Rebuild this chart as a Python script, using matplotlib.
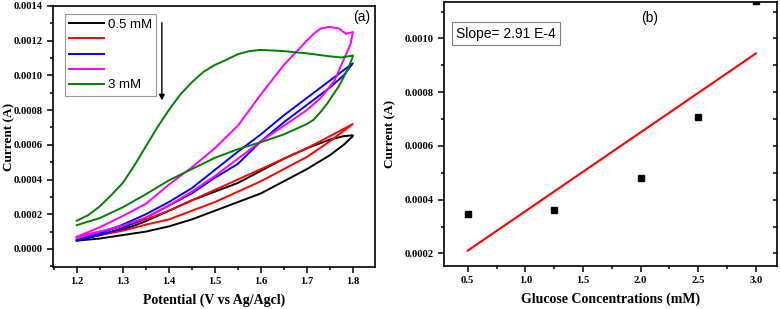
import numpy as np
import matplotlib
matplotlib.use("Agg")
import matplotlib.pyplot as plt
from matplotlib.ticker import MultipleLocator

# ---------------- data: panel (a) cyclic voltammograms ----------------
# forward (upper) branch and return (lower) branch
green_up_x = [1.2, 1.225, 1.25, 1.275, 1.3, 1.325, 1.35, 1.375, 1.4, 1.425, 1.45, 1.475, 1.5, 1.525, 1.55, 1.575, 1.6, 1.65, 1.7, 1.75, 1.775, 1.8]
green_up_y = [0.000163, 0.000195, 0.000245, 0.00031, 0.00038, 0.00048, 0.00059, 0.0007, 0.0008, 0.00089, 0.00096, 0.00102, 0.00106, 0.00109, 0.001122, 0.00114, 0.001147, 0.00114, 0.001127, 0.00111, 0.001103, 0.001115]
green_dn_x = [1.8, 1.79, 1.78, 1.77, 1.76, 1.745, 1.73, 1.715, 1.7, 1.65, 1.6, 1.55, 1.5, 1.45, 1.4, 1.35, 1.3, 1.25, 1.2]
green_dn_y = [0.00111, 0.00104, 0.00099, 0.00094, 0.0009, 0.00084, 0.00079, 0.000745, 0.00072, 0.00066, 0.000615, 0.000575, 0.000525, 0.00046, 0.000395, 0.000315, 0.00024, 0.000178, 0.000137]

mag_up_x = [1.2, 1.25, 1.3, 1.35, 1.4, 1.45, 1.5, 1.55, 1.6, 1.65, 1.7, 1.715, 1.73, 1.75, 1.77, 1.785, 1.8]
mag_up_y = [0.00007, 0.000125, 0.00019, 0.00026, 0.00037, 0.00047, 0.00058, 0.00071, 0.00089, 0.00106, 0.0012, 0.00124, 0.00127, 0.00128, 0.00127, 0.00124, 0.00125]
mag_dn_x = [1.8, 1.795, 1.785, 1.775, 1.76, 1.73, 1.7, 1.65, 1.6, 1.55, 1.5, 1.45, 1.4, 1.35, 1.3, 1.25, 1.2]
mag_dn_y = [0.00125, 0.00118, 0.00112, 0.00106, 0.00097, 0.00087, 0.0008, 0.00071, 0.00062, 0.00052, 0.00042, 0.00033, 0.00025, 0.00018, 0.000135, 0.0001, 0.000065]

blue_up_x = [1.2, 1.25, 1.3, 1.35, 1.4, 1.45, 1.5, 1.55, 1.6, 1.65, 1.7, 1.75, 1.8]
blue_up_y = [0.00005, 0.00009, 0.00014, 0.0002, 0.00027, 0.00035, 0.000455, 0.00056, 0.00066, 0.00077, 0.00087, 0.00097, 0.00107]
blue_dn_x = [1.8, 1.78, 1.75, 1.7, 1.65, 1.6, 1.55, 1.5, 1.45, 1.4, 1.35, 1.3, 1.25, 1.2]
blue_dn_y = [0.00107, 0.001, 0.00093, 0.00083, 0.00073, 0.00062, 0.00049, 0.00041, 0.00032, 0.00025, 0.00018, 0.00012, 0.00008, 0.000048]

red_up_x = [1.2, 1.25, 1.3, 1.35, 1.4, 1.45, 1.5, 1.55, 1.6, 1.65, 1.7, 1.75, 1.8]
red_up_y = [0.00007, 0.0001, 0.00013, 0.00017, 0.00022, 0.00028, 0.00034, 0.0004, 0.00046, 0.00052, 0.00058, 0.00065, 0.00072]
red_dn_x = [1.8, 1.75, 1.7, 1.65, 1.6, 1.55, 1.5, 1.45, 1.4, 1.35, 1.3, 1.25, 1.2]
red_dn_y = [0.00072, 0.00062, 0.00053, 0.00046, 0.00039, 0.00033, 0.00027, 0.00022, 0.00017, 0.00014, 0.000105, 0.00008, 0.000065]

black_up_x = [1.2, 1.25, 1.3, 1.35, 1.4, 1.45, 1.5, 1.55, 1.6, 1.65, 1.7, 1.75, 1.78, 1.8]
black_up_y = [0.00005, 0.00008, 0.00011, 0.00016, 0.00022, 0.00028, 0.00033, 0.00038, 0.00045, 0.00052, 0.00058, 0.00063, 0.00065, 0.000655]
black_dn_x = [1.8, 1.78, 1.75, 1.7, 1.65, 1.6, 1.55, 1.5, 1.45, 1.4, 1.35, 1.3, 1.25, 1.2]
black_dn_y = [0.00065, 0.0006, 0.00054, 0.00046, 0.00039, 0.00032, 0.00027, 0.00022, 0.00017, 0.00013, 0.0001, 0.00008, 0.00006, 0.000048]

legend_labels = ["0.5 mM", "", "", "", "3 mM"]

# ---------------- data: panel (b) calibration ----------------
conc = [0.5, 1.25, 2.0, 2.5, 3.0]
peak_current = [0.000345, 0.000361, 0.000481, 0.000706, 0.00114]
slope_text = "Slope= 2.91 E-4"

# ---------------- styling ----------------
SERIF = "Liberation Serif"
SANS = "Liberation Sans"

fig = plt.figure(figsize=(7.8, 3.09), dpi=100)
ax1 = fig.add_axes([0.0683, 0.1359, 0.4124, 0.8447])
ax2 = fig.add_axes([0.5692, 0.139, 0.4265, 0.854])

def style_axes(ax):
    for s in ax.spines.values():
        s.set_linewidth(1.2)
    ax.tick_params(which="major", direction="out", length=4, width=1.1,
                   labelsize=7.6)
    ax.tick_params(which="minor", direction="out", length=2.5, width=1.1)
    for lab in ax.get_xticklabels() + ax.get_yticklabels():
        lab.set_fontfamily(SERIF)
        lab.set_fontweight("bold")

# ----- panel (a) -----
curves = [
    (black_up_x, black_up_y, black_dn_x, black_dn_y, "black"),
    (red_up_x, red_up_y, red_dn_x, red_dn_y, "#ff0000"),
    (blue_up_x, blue_up_y, blue_dn_x, blue_dn_y, "#0000ff"),
    (mag_up_x, mag_up_y, mag_dn_x, mag_dn_y, "#ff00ff"),
    (green_up_x, green_up_y, green_dn_x, green_dn_y, "#008000"),
]
handles = []
for ux, uy, dx, dy, c in curves:
    h, = ax1.plot(list(ux) + list(dx), list(uy) + list(dy), color=c, lw=1.4)
    handles.append(h)

ax1.set_xlim(1.149, 1.848)
ax1.set_ylim(-0.000104, 0.0014)
ax1.xaxis.set_major_locator(MultipleLocator(0.1))
ax1.xaxis.set_minor_locator(MultipleLocator(0.05))
ax1.yaxis.set_major_locator(MultipleLocator(0.0002))
ax1.yaxis.set_minor_locator(MultipleLocator(0.0001))
ax1.xaxis.set_major_formatter(plt.FuncFormatter(lambda v, p: f"{v:.1f}"))
ax1.yaxis.set_major_formatter(plt.FuncFormatter(lambda v, p: f"{v:.4f}"))
style_axes(ax1)
ax1.set_xlabel("Potential (V vs Ag/Agcl)", fontfamily=SERIF, fontweight="bold", fontsize=10, labelpad=5)
ax1.set_ylabel("Current (A)", fontfamily=SERIF, fontweight="bold", fontsize=9.5)
ax1.yaxis.set_label_coords(-0.118, 0.5)

leg = ax1.legend(handles, legend_labels, loc="upper left", bbox_to_anchor=(0.036, 0.969),
                 borderaxespad=0, frameon=True, fancybox=False, handlelength=2.6,
                 handletextpad=0.3, labelspacing=0.22, borderpad=0.35,
                 prop={"family": SANS, "size": 9.5})
leg.get_frame().set_edgecolor("#808080")
leg.get_frame().set_linewidth(0.8)

ax1.annotate("", xy=(1.385, 0.00084), xytext=(1.385, 0.00132),
             arrowprops=dict(arrowstyle="-|>", color="black", lw=1.0, mutation_scale=8))
ax1.text(0.96, 0.958, "(a)", transform=ax1.transAxes, ha="center", va="center",
         fontfamily=SANS, fontsize=10)

# ----- panel (b) -----
ax2.plot(conc, peak_current, "s", color="black", markersize=5, linestyle="none")
coef = np.polyfit(conc, peak_current, 1)
fit_x = np.array([conc[0], conc[-1]])
ax2.plot(fit_x, np.polyval(coef, fit_x), color="#ff0000", lw=1.5)

ax2.set_xlim(0.294, 3.18)
ax2.set_ylim(0.000153, 0.001135)
ax2.xaxis.set_major_locator(MultipleLocator(0.5))
ax2.xaxis.set_minor_locator(MultipleLocator(0.25))
ax2.yaxis.set_major_locator(MultipleLocator(0.0002))
ax2.yaxis.set_minor_locator(MultipleLocator(0.0001))
ax2.xaxis.set_major_formatter(plt.FuncFormatter(lambda v, p: f"{v:.1f}"))
ax2.yaxis.set_major_formatter(plt.FuncFormatter(lambda v, p: f"{v:.4f}"))
style_axes(ax2)
ax2.yaxis.set_tick_params(which="both", right=True)
# right-side mirror ticks point inward
for t in ax2.yaxis.get_major_ticks() + ax2.yaxis.get_minor_ticks():
    t.tick2line.set_marker(matplotlib.lines.TICKLEFT)
    t.tick2line.set_markersize(3)
ax2.set_xlabel("Glucose Concentrations (mM)", fontfamily=SERIF, fontweight="bold", fontsize=10, labelpad=5)
ax2.set_ylabel("Current (A)", fontfamily=SERIF, fontweight="bold", fontsize=9.5)
ax2.yaxis.set_label_coords(-0.143, 0.5)

ax2.text(0.036, 0.881, slope_text, transform=ax2.transAxes, ha="left", va="center",
         fontfamily=SANS, fontsize=10,
         bbox=dict(boxstyle="square,pad=0.3", facecolor="white", edgecolor="#808080", lw=0.8))
ax2.text(0.619, 0.939, "(b)", transform=ax2.transAxes, ha="center", va="center",
         fontfamily=SANS, fontsize=10)

fig.savefig("out.png", dpi=100)
